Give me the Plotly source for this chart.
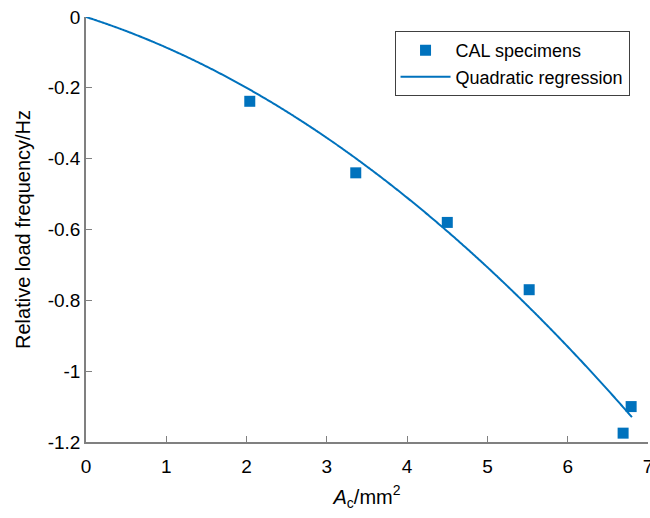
import numpy as np
import plotly.graph_objects as go

# Measured specimens: cross-section area (mm^2) vs relative load frequency (Hz)
area_mm2 = [2.04, 3.36, 4.50, 5.52, 6.69, 6.79]
rel_freq_hz = [-0.238, -0.44, -0.58, -0.77, -1.175, -1.10]

# Quadratic regression through the origin: y = c1*x + c2*x^2
coef_lin = -0.0724
coef_quad = -0.01379
fit_x_max = 6.8

x_tick_vals = [0, 1, 2, 3, 4, 5, 6, 7]
y_tick_vals = [0, -0.2, -0.4, -0.6, -0.8, -1.0, -1.2]
y_tick_text = ["0", "-0.2", "-0.4", "-0.6", "-0.8", "-1", "-1.2"]

blue = "#0072BD"
axis_gray = "#808080"
font_family = "Liberation Sans, Arial, sans-serif"

fit_x = np.linspace(0, fit_x_max, 300)
fit_y = coef_lin * fit_x + coef_quad * fit_x ** 2

fig = go.Figure()
fig.add_trace(go.Scatter(
    x=area_mm2, y=rel_freq_hz, mode="markers", name="CAL specimens",
    marker=dict(symbol="square", size=11, color=blue),
))
fig.add_trace(go.Scatter(
    x=fit_x, y=fit_y, mode="lines", name="Quadratic regression",
    line=dict(color=blue, width=2, shape="spline"),
))

fig.update_layout(
    width=650, height=518,
    margin=dict(l=86, r=2, t=17, b=76),
    paper_bgcolor="white", plot_bgcolor="white",
    font=dict(family=font_family, size=19, color="black"),
    showlegend=True,
    legend=dict(
        x=0.549, y=0.967, xanchor="left", yanchor="top",
        bgcolor="white", bordercolor="#404040", borderwidth=1,
        font=dict(size=18, color="black"),
        tracegroupgap=0, itemwidth=50,
    ),
    xaxis=dict(
        range=[0, 7], tickvals=x_tick_vals,
        showgrid=False, zeroline=False,
        showline=True, linecolor=axis_gray, linewidth=1.5,
        ticks="inside", ticklen=6, tickcolor=axis_gray,
        tickfont=dict(size=19, color="black"),
        ticklabeloverflow="allow", ticklabelstandoff=6, automargin=False,
        title=dict(text="<i>A</i><sub>c</sub>/mm<sup>2</sup>",
                   font=dict(size=20, color="black"), standoff=14),
    ),
    yaxis=dict(
        range=[-1.2, 0], tickvals=y_tick_vals, ticktext=y_tick_text,
        showgrid=False, zeroline=False,
        showline=True, linecolor=axis_gray, linewidth=1.5,
        ticks="inside", ticklen=6, tickcolor=axis_gray,
        tickfont=dict(size=19, color="black"),
        automargin=False,
        title=dict(text="Relative load frequency/Hz",
                   font=dict(size=20, color="black"), standoff=12),
    ),
)

fig.write_html("out.html")
